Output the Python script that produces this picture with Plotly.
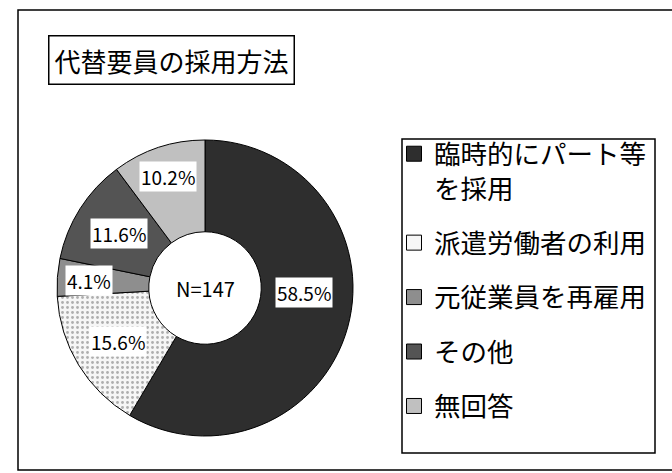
import math
import plotly.graph_objects as go

# ---- data ----
categories = ["臨時的にパート等<br>を採用", "派遣労働者の利用", "元従業員を再雇用", "その他", "無回答"]
values = [58.5, 15.6, 4.1, 11.6, 10.2]
value_labels = ["58.5%", "15.6%", "4.1%", "11.6%", "10.2%"]
center_label = "N=147"
title_text = "代替要員の採用方法"

# ---- style ----
colors = ["#2e2e2e", "#f6f6f6", "#8e8e8e", "#545454", "#c0c0c0"]
patterns = ["", ".", "", "", ""]
label_shift_x = [0, 0, -14, 0, -5]
label_shift_y = [22, 0, 0, 0, 15]
W, H = 672, 473
FONT = "Noto Sans CJK JP"
dom_x = [57 / W, 353 / W]
dom_y = [37 / H, 333 / H]
hole = 0.38

fig = go.Figure()
fig.add_trace(go.Pie(
    labels=categories, values=values, sort=False, direction="clockwise", rotation=0,
    hole=hole, textinfo="none", showlegend=False, hoverinfo="label+percent",
    domain=dict(x=dom_x, y=dom_y),
    marker=dict(colors=colors, line=dict(color="black", width=1),
                pattern=dict(shape=patterns, fillmode="overlay", fgcolor="#666666",
                             size=5, solidity=0.25)),
))

# legend entries
for i, (cat, col) in enumerate(zip(categories, colors)):
    fig.add_trace(go.Scatter(
        x=[None], y=[None], mode="markers", name=cat, legendgroup=f"g{i}",
        marker=dict(symbol="square", size=15, color=col, line=dict(color="black", width=1)),
    ))

# value labels at slice mid-angles
cx = (dom_x[0] + dom_x[1]) / 2
cy = (dom_y[0] + dom_y[1]) / 2
R = min((dom_x[1] - dom_x[0]) * W, (dom_y[1] - dom_y[0]) * H) / 2
r_mid = R * (1 + hole) / 2
total = sum(values)
cum = 0.0
annotations = []
for i, (v, lab) in enumerate(zip(values, value_labels)):
    mid = (cum + v / 2) / total * 2 * math.pi
    cum += v
    annotations.append(dict(
        x=cx + r_mid * math.sin(mid) / W, y=cy + r_mid * math.cos(mid) / H,
        xref="paper", yref="paper", xanchor="center", yanchor="middle",
        text=lab, showarrow=False,
        xshift=label_shift_x[i], yshift=label_shift_y[i],
        font=dict(family=FONT, size=19, color="black"),
        bgcolor="white", borderpad=1,
    ))
annotations.append(dict(x=cx, y=cy, xref="paper", yref="paper", xanchor="center",
                        yanchor="middle", text=center_label, showarrow=False,
                        font=dict(family=FONT, size=20, color="black")))
annotations.append(dict(x=171 / W, y=(H - 60) / H, xref="paper", yref="paper",
                        xanchor="center", yanchor="middle", text=title_text,
                        showarrow=False, font=dict(family=FONT, size=26, color="black"),
                        bordercolor="black", borderwidth=1.5, borderpad=5, bgcolor="white"))

fig.update_layout(
    width=W, height=H, margin=dict(l=0, r=0, t=0, b=0),
    paper_bgcolor="white", plot_bgcolor="white",
    xaxis=dict(visible=False), yaxis=dict(visible=False),
    annotations=annotations,
    legend=dict(x=394 / W, y=(H - 130) / H, xanchor="left", yanchor="top",
                borderwidth=0, bgcolor="rgba(0,0,0,0)",
                font=dict(family=FONT, size=26.5, color="black"),
                tracegroupgap=17, valign="top", itemclick=False, itemdoubleclick=False),
    shapes=[
        dict(type="rect", xref="paper", yref="paper", x0=18 / W, x1=1.02,
             y0=(H - 470) / H, y1=(H - 10) / H, line=dict(color="black", width=1.5),
             layer="below"),
        dict(type="rect", xref="paper", yref="paper", x0=402 / W, x1=655 / W,
             y0=(H - 453) / H, y1=(H - 139) / H, line=dict(color="black", width=1.5),
             fillcolor="white", layer="below"),
    ],
)

fig.write_html("out.html", config={"displayModeBar": False},
               post_script="document.body.style.margin='0px';")
